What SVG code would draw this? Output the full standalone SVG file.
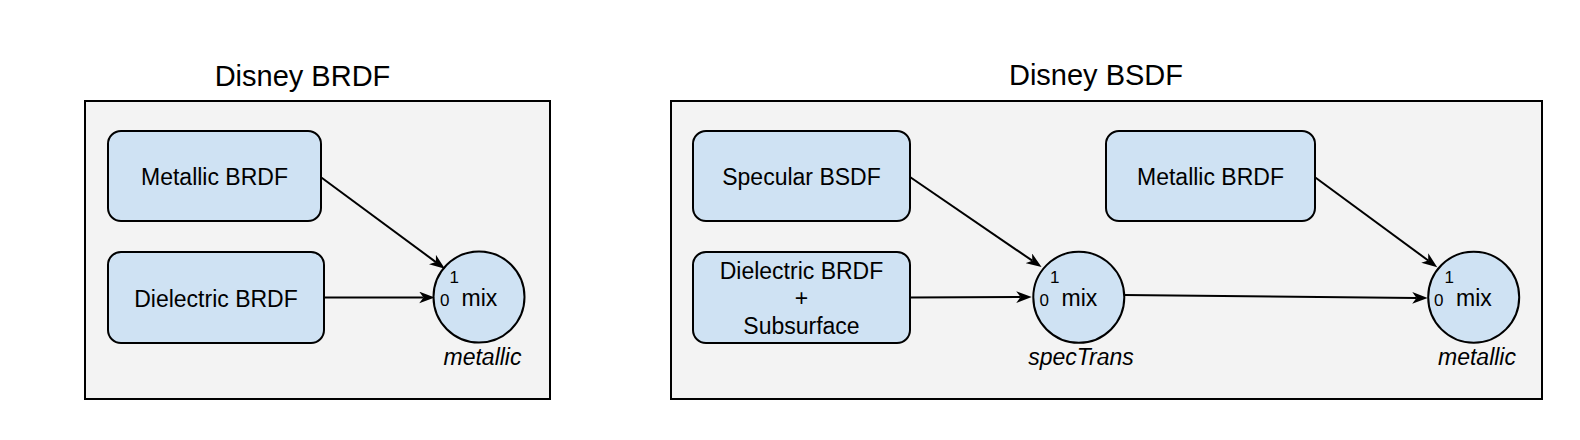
<svg xmlns="http://www.w3.org/2000/svg" width="1580" height="440" viewBox="0 0 1580 440">
<style>
.frame{fill:#f3f3f3;stroke:#000;stroke-width:2}
.box{fill:#cfe2f3;stroke:#000;stroke-width:2}
.title{font-family:"Liberation Sans",Arial,sans-serif;font-size:29px;fill:#000;text-anchor:middle}
.lbl{font-family:"Liberation Sans",Arial,sans-serif;font-size:23px;fill:#000;text-anchor:middle}
.mix{font-family:"Liberation Sans",Arial,sans-serif;font-size:23px;fill:#000}
.port{font-family:"Liberation Sans",Arial,sans-serif;font-size:17px;fill:#000}
.param{font-family:"Liberation Sans",Arial,sans-serif;font-size:23px;font-style:italic;fill:#000;text-anchor:middle}
.edge{fill:none;stroke:#000;stroke-width:2}
</style>
<defs>
<marker id="arr" markerUnits="userSpaceOnUse" markerWidth="16" markerHeight="12" refX="4" refY="5.5" orient="auto" viewBox="0 0 15 11">
<path d="M0,0 L14.5,5.5 L0,11 L4,5.5 z" fill="#000"/>
</marker>
</defs>
<rect width="1580" height="440" fill="#fff"/>

<g id="brdf-container">
<rect class="frame" x="85" y="101" width="465" height="298"/>
<text class="title" x="302.5" y="85.5">Disney BRDF</text>
</g>
<g id="bsdf-container">
<rect class="frame" x="671" y="101" width="871" height="298"/>
<text class="title" x="1096" y="85">Disney BSDF</text>
</g>

<g id="brdf-metallic">
<rect class="box" x="108" y="131" width="213" height="90" rx="13"/>
<text class="lbl" x="214.5" y="185">Metallic BRDF</text>
</g>
<g id="brdf-dielectric">
<rect class="box" x="108" y="252" width="216" height="91" rx="13"/>
<text class="lbl" x="216" y="306.5">Dielectric BRDF</text>
</g>
<g id="brdf-mix">
<circle class="box" cx="479" cy="297" r="45.5"/>
<text class="port" x="440" y="306">0</text>
<text class="port" x="449.5" y="282.5">1</text>
<text class="mix" x="461.5" y="306">mix</text>
<text class="param" x="482.5" y="365">metallic</text>
</g>

<g id="bsdf-specular">
<rect class="box" x="693" y="131" width="217" height="90" rx="13"/>
<text class="lbl" x="801.5" y="185">Specular BSDF</text>
</g>
<g id="bsdf-dielectric-subsurface">
<rect class="box" x="693" y="252" width="217" height="91" rx="13"/>
<text class="lbl" x="801.5" y="278.5">Dielectric BRDF</text>
<text class="lbl" x="801.5" y="306">+</text>
<text class="lbl" x="801.5" y="333.5">Subsurface</text>
</g>
<g id="bsdf-mix-spectrans">
<circle class="box" cx="1078.8" cy="297.3" r="45.5"/>
<text class="port" x="1039.5" y="306">0</text>
<text class="port" x="1050" y="282.5">1</text>
<text class="mix" x="1061.5" y="306">mix</text>
<text class="param" x="1081" y="365">specTrans</text>
</g>
<g id="bsdf-metallic">
<rect class="box" x="1106" y="131" width="209" height="90" rx="13"/>
<text class="lbl" x="1210.5" y="185">Metallic BRDF</text>
</g>
<g id="bsdf-mix-metallic">
<circle class="box" cx="1473.7" cy="297.2" r="45.5"/>
<text class="port" x="1434" y="306">0</text>
<text class="port" x="1444.5" y="282.5">1</text>
<text class="mix" x="1456" y="306">mix</text>
<text class="param" x="1477" y="365">metallic</text>
</g>

<g id="connectors">
<line class="edge" x1="321" y1="177.3" x2="435.9" y2="262.1" marker-end="url(#arr)"/>
<line class="edge" x1="324" y1="297.5" x2="423.5" y2="297.5" marker-end="url(#arr)"/>
<line class="edge" x1="910" y1="177" x2="1032.3" y2="260.7" marker-end="url(#arr)"/>
<line class="edge" x1="910" y1="297.5" x2="1020.5" y2="297.1" marker-end="url(#arr)"/>
<line class="edge" x1="1315" y1="177.3" x2="1428.2" y2="260.5" marker-end="url(#arr)"/>
<line class="edge" x1="1124.3" y1="295" x2="1416.5" y2="297.9" marker-end="url(#arr)"/>
</g>
</svg>
